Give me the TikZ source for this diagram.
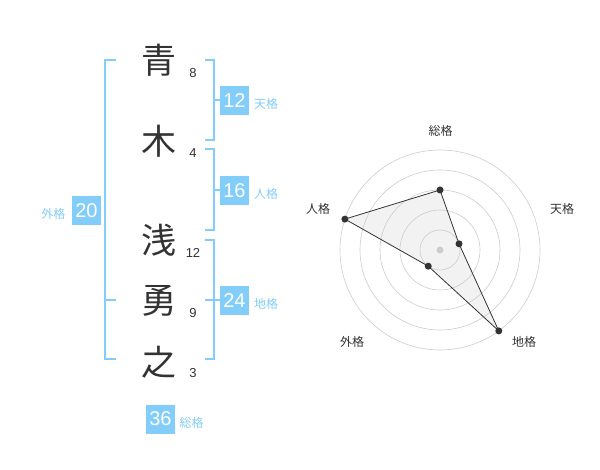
\documentclass[tikz,border=0pt]{standalone}
\usepackage{fontspec}
\setmainfont{Liberation Sans}
\newfontfamily\cjk{Noto Sans CJK JP}
\definecolor{lblue}{HTML}{82CDF9}
\definecolor{dark}{HTML}{333333}
\definecolor{ring}{HTML}{CCCCCC}
\tikzset{
  kanji/.style={font=\cjk\fontsize{35}{35}\selectfont, text=dark, inner sep=0pt},
  strokes/.style={font=\fontsize{13}{13}\selectfont, text=dark, inner sep=0pt},
  valbox/.style={fill=lblue, text=white, minimum width=29pt, minimum height=29pt, inner sep=0pt, font=\fontsize{20}{20}\selectfont},
  kaku/.style={text=lblue, font=\cjk\fontsize{12}{12}\selectfont, inner sep=0pt},
  brk/.style={draw=lblue, line width=1.7pt},
  radlabel/.style={text=dark, font=\cjk\fontsize{12}{12}\selectfont, inner sep=0pt},
  ringline/.style={draw=ring, line width=0.6pt},
  dot/.style={circle, fill=dark, minimum size=7pt, inner sep=0pt},
}
\begin{document}
\begin{tikzpicture}[x=1pt,y=-1pt]
\useasboundingbox (0,0) rectangle (600,470);
% brackets
\draw[brk] (116,60) -- (105,60) -- (105,359) -- (116,359);
\draw[brk] (105,300) -- (116,300);
\draw[brk] (205,60) -- (214,60) -- (214,140) -- (205,140);
\draw[brk] (214,100) -- (220,100);
\draw[brk] (205,149) -- (214,149) -- (214,230) -- (205,230);
\draw[brk] (214,190) -- (220,190);
\draw[brk] (205,240) -- (214,240) -- (214,359) -- (205,359);
\draw[brk] (205,300) -- (220,300);
% kanji
\node[kanji] (k1) at (159,60.5) {青};
\node[kanji] (k2) at (159,141) {木};
\node[kanji] (k3) at (159,240) {浅};
\node[kanji] (k4) at (159,301) {勇};
\node[kanji] (k5) at (159,362) {之};
% stroke counts
\node[strokes] (s1) at (193,73.3) {8};
\node[strokes] (s2) at (193,152.7) {4};
\node[strokes] (s3) at (193,252.7) {12};
\node[strokes] (s4) at (193,313.3) {9};
\node[strokes] (s5) at (193,373.3) {3};
% value boxes
\node[valbox] (ten) at (234.5,100.5) {12};
\node[kaku, anchor=west] (tenl) at (254,104) {天格};
\node[valbox] (jin) at (234.5,190.5) {16};
\node[kaku, anchor=west] (jinl) at (254,194) {人格};
\node[valbox] (chi) at (234.5,300.5) {24};
\node[kaku, anchor=west] (chil) at (254,304) {地格};
\node[valbox] (gai) at (86.5,210.5) {20};
\node[kaku] (gail) at (53.5,213.5) {外格};
\node[valbox] (sou) at (160.5,419) {36};
\node[kaku, anchor=west] (soul) at (179.5,422.5) {総格};
% radar
\coordinate (pS) at (440,190);
\coordinate (pT) at ({440+20*cos(18)},{250-20*sin(18)});
\coordinate (pC) at ({440+100*cos(-54)},{250-100*sin(-54)});
\coordinate (pG) at ({440+20*cos(-126)},{250-20*sin(-126)});
\coordinate (pJ) at ({440+100*cos(162)},{250-100*sin(162)});
\fill[black!5] (pS) -- (pT) -- (pC) -- (pG) -- (pJ) -- cycle;
\foreach \r in {20,40,60,80,100} \draw[ringline] (440,250) circle (\r);
\node[circle, fill=ring, minimum size=7pt, inner sep=0pt] (ctr) at (440,250) {};
\draw[dark, line width=0.8pt] (pS) -- (pT) -- (pC) -- (pG) -- (pJ) -- cycle;
\foreach \p in {pS,pT,pC,pG,pJ} \node[dot] at (\p) {};
\node[radlabel] (lS) at (440.7,130.7) {総格};
\node[radlabel] (lT) at (562,209) {天格};
\node[radlabel] (lC) at (524,341.7) {地格};
\node[radlabel] (lG) at (352,341.7) {外格};
\node[radlabel] (lJ) at (318,209) {人格};
\end{tikzpicture}
\end{document}
